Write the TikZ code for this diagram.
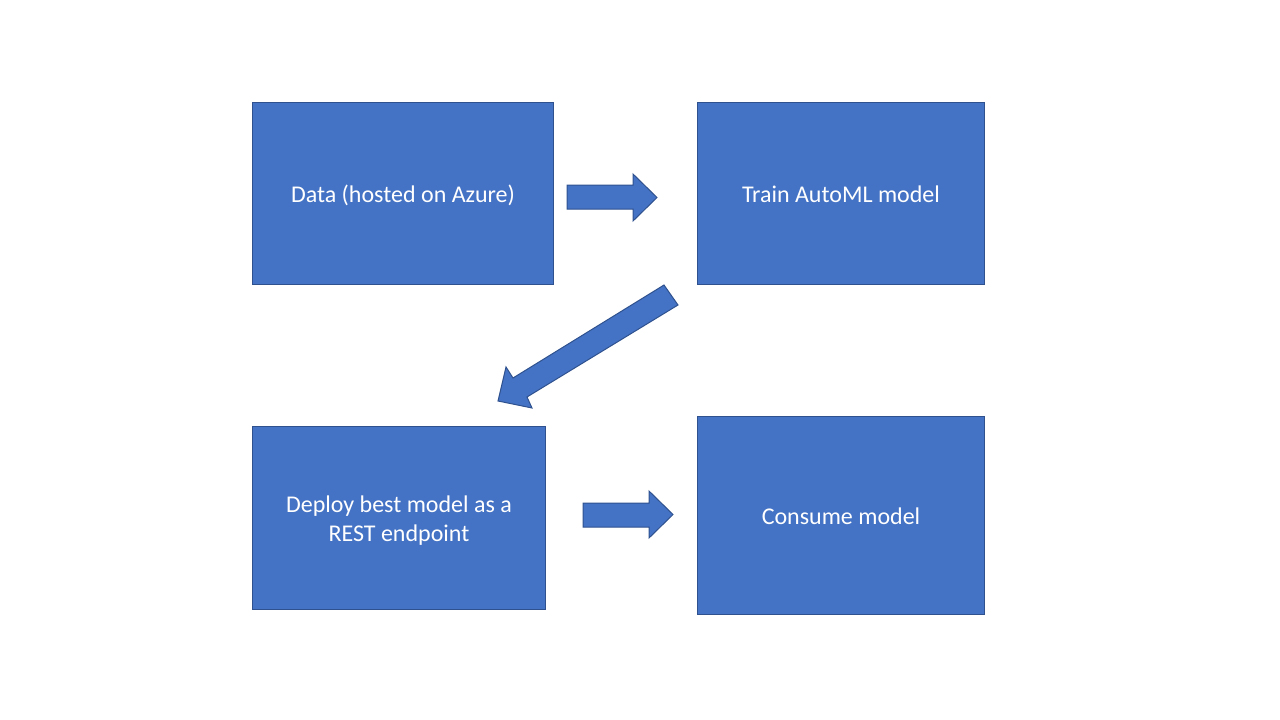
\documentclass[tikz,border=0pt]{standalone}
\usepackage{fontspec}
\setmainfont{Carlito}
\definecolor{boxfill}{HTML}{4472C4}
\definecolor{boxline}{HTML}{2F528F}
\begin{document}
\begin{tikzpicture}[x=1pt,y=-1pt,
  blockbox/.style={draw=boxline,fill=boxfill,line width=1pt,text=white,align=center,
    font=\fontsize{24}{29}\selectfont,inner sep=0pt,anchor=north west,text height=21pt,text depth=4pt},
  blockarrow/.style={draw=boxline,fill=boxfill,line width=1pt,line join=miter}]
\useasboundingbox (0,0) rectangle (1280,720);
\node[blockbox,minimum width=301pt,minimum height=182pt] (data) at (252,102) {Data (hosted on Azure)};
\node[blockbox,minimum width=287pt,minimum height=182pt] (train) at (697,102) {Train AutoML model};
\node[blockbox,minimum width=293pt,minimum height=183pt,text height=50pt] (deploy) at (252,426) {Deploy best model as a\\REST endpoint};
\node[blockbox,minimum width=287pt,minimum height=198pt] (consume) at (697,416) {Consume model};
% block arrows
\draw[blockarrow] (567,185) -- (633,185) -- (633,174) -- (657,197.5) -- (633,221) -- (633,209) -- (567,209) -- cycle;
\draw[blockarrow] (664,285) -- (678,305) -- (527,397) -- (532,408) -- (498,401) -- (506,367) -- (513,378) -- cycle;
\draw[blockarrow] (583,503) -- (649,503) -- (649,491) -- (673,514.5) -- (649,538) -- (649,527) -- (583,527) -- cycle;
\end{tikzpicture}
\end{document}
